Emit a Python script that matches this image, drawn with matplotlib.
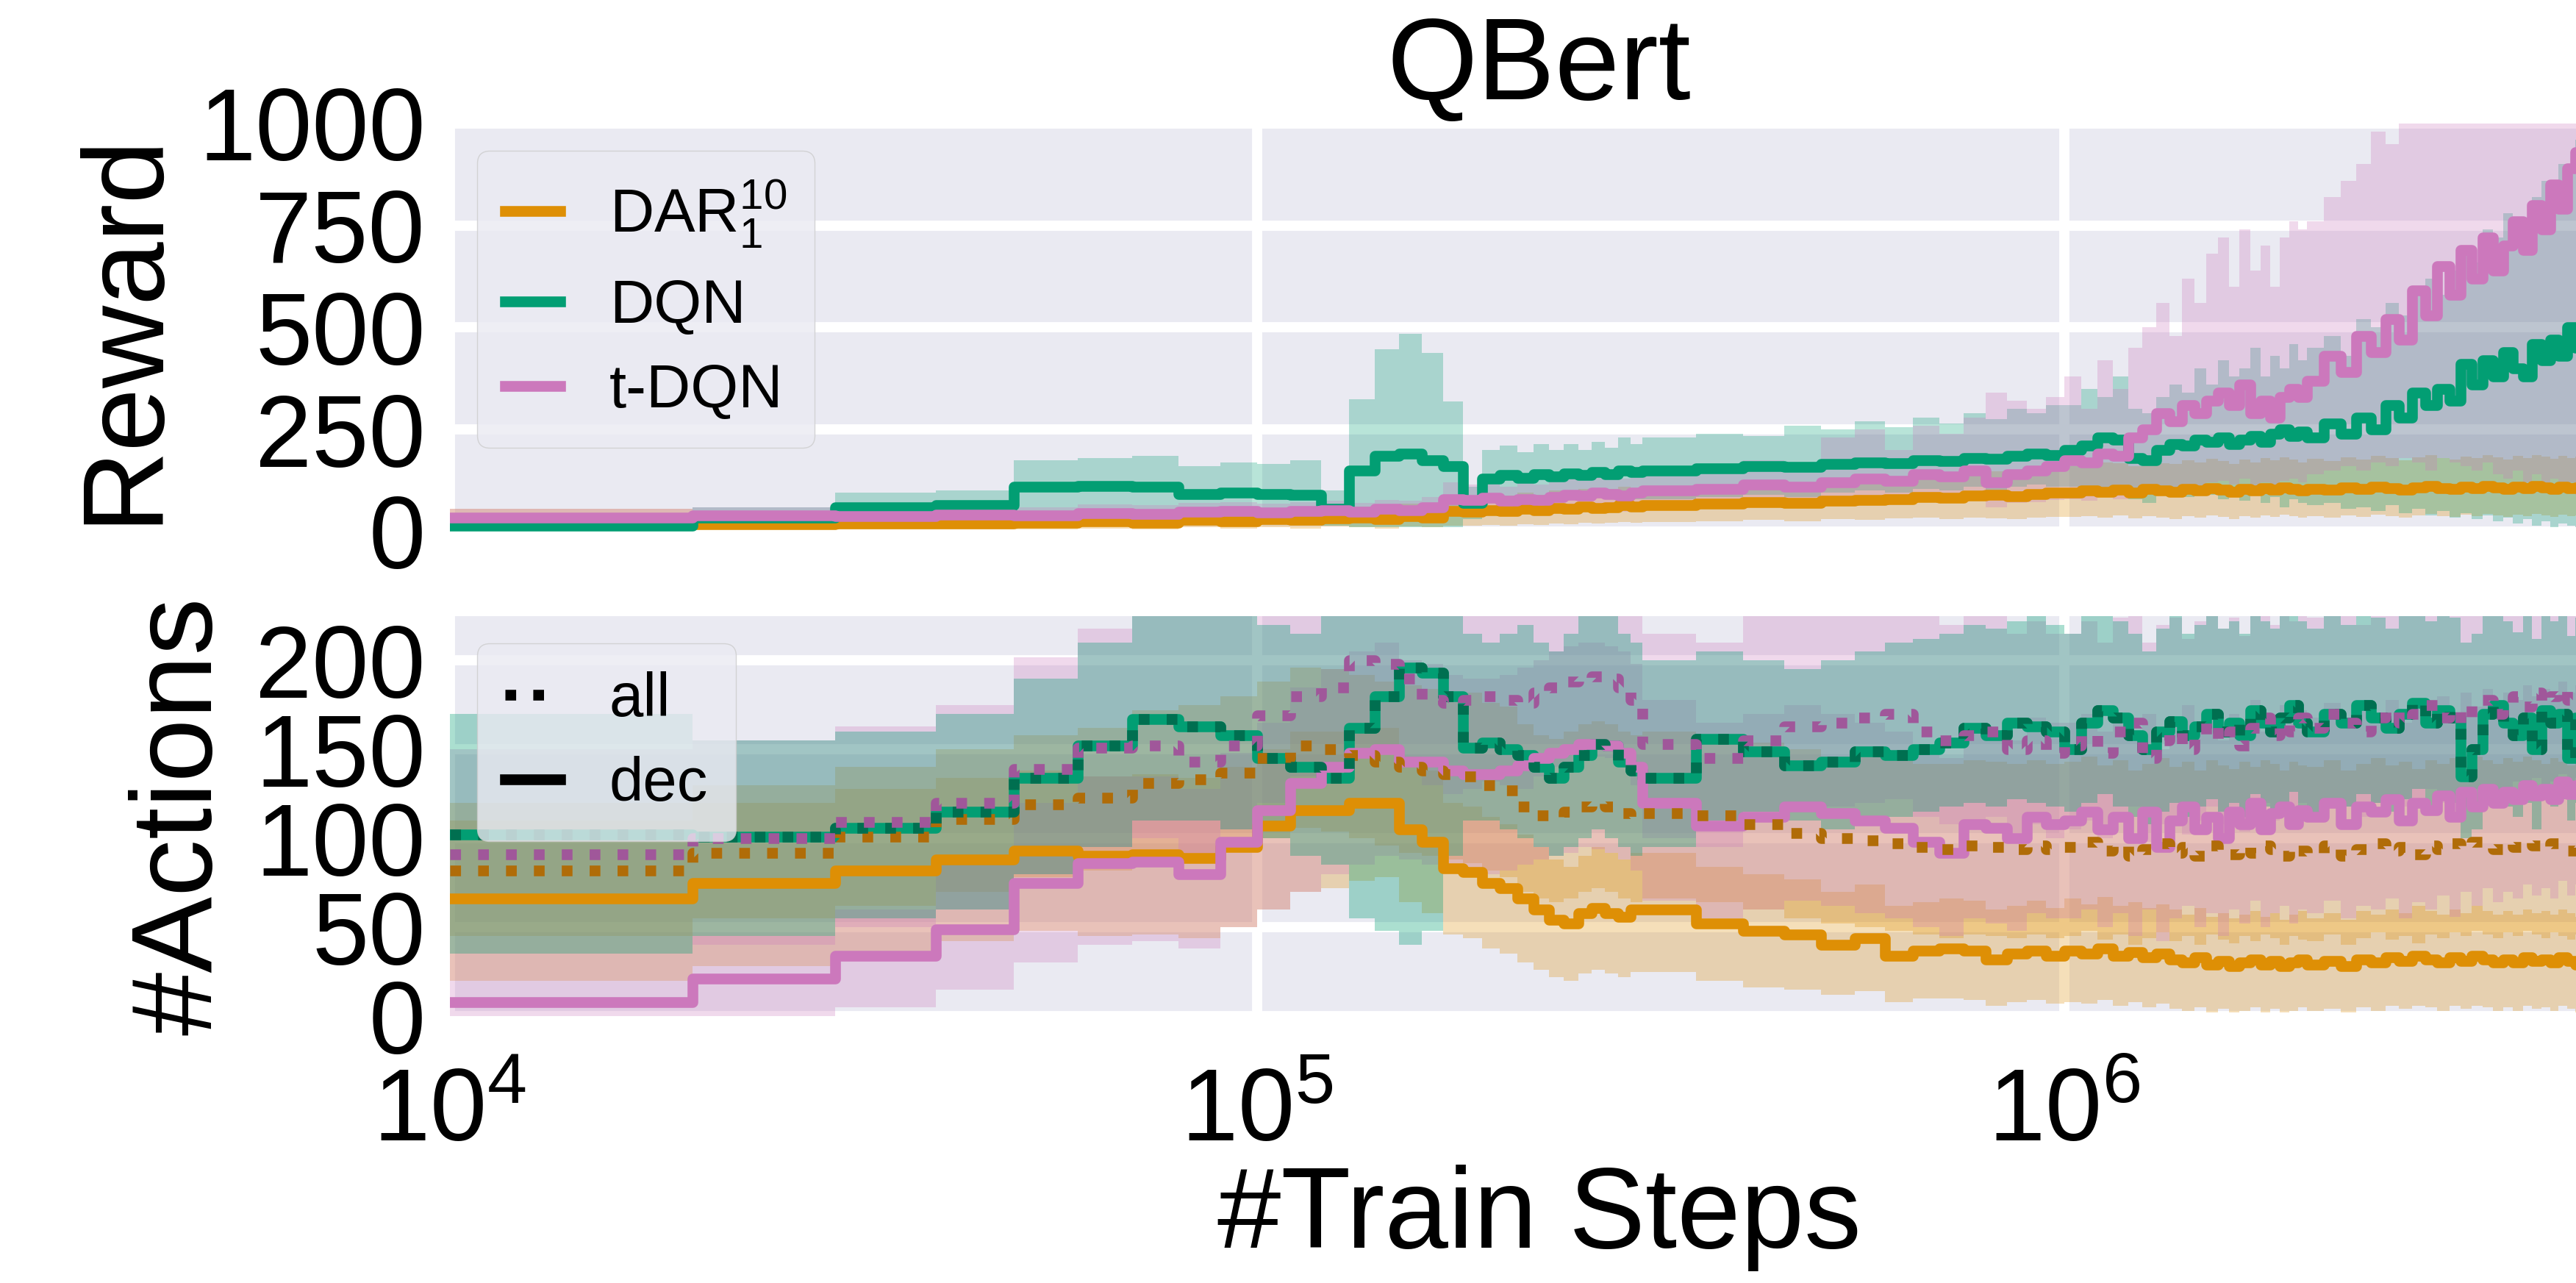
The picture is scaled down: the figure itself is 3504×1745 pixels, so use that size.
import numpy as np
import matplotlib
matplotlib.use("Agg")
import matplotlib.pyplot as plt
from matplotlib.lines import Line2D
from matplotlib.ticker import NullLocator, NullFormatter

plt.rcParams.update({
    'font.family': ['Liberation Sans', 'DejaVu Sans'],
    'mathtext.fontset': 'custom',
    'mathtext.rm': 'Liberation Sans',
    'mathtext.it': 'Liberation Sans:italic',
    'mathtext.bf': 'Liberation Sans:bold',
    'mathtext.default': 'regular',
})

# ---------------- data ----------------
train_steps = np.concatenate([np.arange(1, 30) * 1e4, np.arange(30, 100, 5) * 1e4,
                              np.arange(100, 200, 5) * 1e4, np.arange(200, 501, 10) * 1e4])

methods = ['DAR$_1^{10}$', 'DQN', 't-DQN']
colors = ['#DE8F05', '#029E73', '#CC78BC']
dark_colors = ['#B06C08', '#006F50', '#A0579A']
reward_ticks = [0, 250, 500, 750, 1000]
action_ticks = [0, 50, 100, 150, 200]

# Reward (mean, lower, upper)
reward_dar = [30, 18, 20, 20, 22, 25, 22, 28, 25, 30, 28, 32, 35, 30, 38, 35, 50, 48, 52, 50, 55, 52, 58, 55, 62, 58, 60, 65, 62,
              65, 68, 72, 70, 75, 78, 80, 85, 82, 88, 90, 87, 92, 95,
              95, 100, 98, 102, 96, 105, 100, 98, 104, 100, 106, 102, 98, 104, 100, 106, 102, 108, 104, 100,
              105, 102, 108, 104, 110, 106, 102, 108, 112, 106, 104, 110, 106, 112, 108, 104, 110, 106, 112, 108, 104, 110, 106, 108, 104, 110, 106, 108, 104, 110, 106]
reward_dar_lo = [5, 5, 5, 5, 6, 8, 6, 10, 8, 10, 8, 12, 10, 8, 12, 10, 15, 14, 16, 15, 18, 16, 20, 18, 22, 20, 22, 24, 22,
                 24, 26, 28, 26, 30, 28, 32, 34, 30, 35, 32, 30, 34, 36,
                 36, 38, 34, 40, 32, 38, 35, 30, 38, 34, 40, 36, 30, 38, 34, 40, 36, 42, 38, 34,
                 38, 34, 40, 36, 42, 38, 34, 40, 44, 38, 36, 42, 38, 44, 40, 36, 42, 38, 44, 40, 36, 42, 38, 40, 36, 42, 38, 40, 36, 42, 38]
reward_dar_hi = [55, 35, 38, 40, 42, 46, 42, 50, 48, 55, 50, 58, 62, 55, 68, 62, 90, 85, 92, 88, 95, 90, 100, 95, 105, 100, 104, 110, 106,
                 110, 115, 120, 118, 125, 130, 135, 140, 138, 145, 148, 145, 152, 158,
                 160, 165, 170, 168, 160, 172, 168, 165, 175, 170, 178, 172, 166, 176, 170, 180, 174, 182, 176, 170,
                 178, 172, 182, 176, 185, 180, 174, 182, 188, 180, 176, 184, 180, 188, 182, 176, 186, 180, 188, 184, 178, 186, 180, 184, 178, 186, 180, 184, 178, 186, 182]

reward_dqn = [15, 35, 60, 65, 110, 112, 110, 92, 95, 92, 90, 55, 150, 185, 190, 175, 160, 70, 130, 138, 132, 140, 135, 142, 138, 145, 140, 150, 145,
              150, 155, 160, 158, 165, 170, 168, 175, 172, 180, 178, 185, 190, 188,
              200, 210, 230, 225, 180, 175, 200, 215, 210, 225, 220, 230, 215, 225, 235, 220, 240, 250, 235, 245,
              230, 265, 240, 280, 250, 310, 280, 340, 310, 350, 320, 410, 360, 420, 380, 440, 400, 380, 460, 420, 470, 430, 500, 450, 520, 470, 530, 490, 530, 500, 520]
reward_dqn_lo = [5, 10, 25, 30, 40, 45, 40, 35, 40, 35, 30, 15, 10, 10, 10, 10, 10, 30, 70, 75, 70, 80, 75, 80, 75, 85, 80, 85, 80,
                 80, 85, 90, 85, 95, 100, 95, 105, 100, 110, 100, 110, 115, 110,
                 110, 100, 90, 100, 80, 70, 90, 95, 85, 100, 90, 80, 95, 75, 90, 70, 85, 60, 80, 70,
                 65, 70, 55, 60, 50, 65, 45, 55, 40, 50, 35, 45, 30, 40, 25, 35, 20, 30, 15, 25, 10, 20, 15, 10, 5, 10, 5, 10, 5, 10, 5]
reward_dqn_hi = [35, 60, 95, 100, 175, 180, 185, 160, 170, 165, 175, 100, 325, 446, 485, 438, 318, 110, 200, 210, 195, 215, 200, 215, 200, 220, 205, 230, 215,
                 230, 240, 235, 260, 250, 270, 255, 280, 265, 290, 275, 300, 290, 310,
                 310, 350, 330, 380, 300, 290, 330, 360, 340, 400, 360, 420, 380, 400, 450, 380, 430, 400, 460, 420,
                 450, 480, 430, 520, 500, 560, 530, 600, 620, 580, 640, 700, 660, 740, 720, 780, 760, 700, 820, 860, 840, 900, 880, 960, 940, 1000, 980, 1000, 990, 1000, 1000]

reward_tdqn = [35, 40, 38, 42, 40, 45, 43, 48, 50, 47, 50, 52, 48, 55, 52, 60, 80, 78, 82, 75, 80, 78, 85, 90, 88, 95, 92, 88, 95,
               100, 105, 115, 110, 120, 130, 125, 140, 135, 150, 120, 140, 150, 160,
               175, 170, 190, 185, 230, 250, 290, 270, 310, 290, 320, 340, 310, 360, 290, 320, 280, 330, 350, 330,
               370, 430, 390, 480, 440, 520, 470, 590, 530, 650, 580, 690, 620, 720, 640, 700, 760, 690, 800, 740, 850, 790, 890, 930, 880, 960, 920, 970, 940, 980, 960]
reward_tdqn_lo = [15, 20, 18, 22, 20, 24, 22, 26, 28, 25, 28, 30, 26, 30, 28, 32, 45, 42, 45, 40, 44, 42, 48, 50, 48, 52, 50, 48, 52,
                  55, 58, 62, 60, 65, 70, 66, 72, 70, 75, 60, 70, 72, 78,
                  80, 75, 85, 80, 95, 100, 110, 105, 115, 110, 120, 125, 115, 130, 110, 120, 105, 125, 130, 120,
                  140, 150, 160, 150, 170, 160, 180, 170, 150, 180, 170, 160, 150, 170, 140, 130, 150, 120, 140, 110, 130, 100, 120, 90, 110, 80, 100, 80, 90, 80, 90]
reward_tdqn_hi = [55, 60, 58, 62, 60, 66, 64, 70, 72, 68, 72, 75, 70, 78, 75, 85, 120, 115, 120, 110, 118, 115, 125, 130, 128, 135, 132, 130, 138,
                  150, 160, 175, 170, 230, 250, 200, 260, 240, 280, 340, 320, 300, 330,
                  380, 300, 420, 350, 450, 500, 560, 480, 620, 560, 680, 720, 600, 740, 640, 700, 600, 720, 760, 740,
                  760, 820, 860, 900, 980, 950, 1050, 1100, 1050, 1150, 1100, 1200, 1150, 1250, 1100, 1200, 1250, 1200, 1300, 1250, 1350, 1300, 1400, 1400, 1350, 1450, 1400, 1450, 1400, 1450, 1400]

# #Actions: "dec" (solid) and "all" (dotted); DQN decides at every step, so its two curves coincide
act_dar_dec = [66, 75, 82, 88, 93, 90, 91, 89, 95, 107, 116, 116, 120, 120, 105, 98, 83, 81, 75, 72, 66, 60, 54, 52, 58, 61, 58, 56, 60,
               60, 52, 48, 46, 40, 44, 34, 37, 38, 37, 32, 35, 37, 34,
               37, 35, 38, 34, 36, 33, 35, 32, 30, 33, 29, 31, 28, 30, 32, 29, 31, 28, 30, 32,
               29, 31, 28, 32, 30, 33, 31, 34, 32, 30, 33, 31, 34, 32, 30, 32, 30, 33, 31, 32, 30, 33, 31, 29, 31, 30, 32, 30, 31, 30, 31]
act_dar_dec_lo = [20, 28, 35, 42, 48, 45, 46, 44, 50, 60, 70, 72, 76, 78, 64, 58, 46, 44, 38, 35, 30, 26, 22, 20, 24, 26, 24, 22, 25,
                  25, 20, 16, 15, 12, 14, 8, 10, 10, 9, 6, 8, 9, 7,
                  8, 7, 9, 6, 8, 5, 7, 4, 3, 5, 2, 4, 2, 3, 5, 2, 4, 2, 3, 5,
                  3, 4, 2, 5, 3, 6, 4, 6, 5, 3, 6, 4, 6, 5, 3, 5, 3, 6, 4, 5, 3, 6, 4, 2, 4, 3, 5, 3, 4, 3, 4]
act_dar_dec_hi = [110, 120, 128, 134, 138, 135, 136, 134, 140, 150, 160, 160, 164, 162, 146, 138, 120, 118, 112, 108, 102, 95, 88, 84, 90, 95, 92, 88, 92,
                  92, 84, 80, 77, 70, 74, 62, 64, 66, 65, 60, 62, 65, 61,
                  66, 63, 67, 62, 64, 61, 63, 60, 57, 61, 56, 58, 55, 57, 59, 56, 58, 54, 57, 59,
                  55, 58, 54, 59, 57, 60, 58, 62, 59, 57, 60, 58, 62, 59, 57, 59, 57, 60, 58, 59, 57, 60, 58, 56, 58, 57, 59, 57, 58, 57, 58]
act_dar_all = [82, 92, 101, 111, 119, 123, 131, 133, 137, 145, 152, 150, 147, 143, 140, 138, 136, 135, 130, 127, 118, 113, 112, 115, 118, 120, 118, 114, 112,
               114, 113, 108, 103, 100, 99, 97, 95, 94, 96, 95, 94, 96, 94,
               95, 98, 93, 96, 90, 94, 97, 92, 95, 90, 96, 93, 91, 95, 92, 96, 94, 90, 95, 93,
               92, 96, 90, 94, 97, 93, 95, 91, 96, 94, 97, 95, 98, 96, 94, 97, 95, 98, 96, 94, 97, 95, 93, 96, 94, 97, 95, 93, 96, 94, 95]
act_dar_all_lo = [45, 55, 62, 70, 78, 82, 88, 90, 94, 100, 106, 104, 100, 96, 92, 90, 88, 86, 82, 78, 70, 66, 64, 66, 70, 72, 70, 66, 64,
                  66, 64, 60, 55, 52, 50, 48, 46, 44, 46, 45, 44, 46, 44,
                  45, 48, 43, 46, 40, 44, 47, 42, 45, 40, 46, 43, 41, 45, 42, 46, 44, 40, 45, 43,
                  42, 46, 40, 44, 47, 43, 45, 41, 46, 44, 47, 45, 48, 46, 44, 47, 45, 48, 46, 44, 47, 45, 43, 46, 44, 47, 45, 43, 46, 44, 45]
act_dar_all_hi = [120, 130, 140, 150, 158, 162, 172, 175, 180, 188, 196, 195, 192, 188, 186, 184, 182, 182, 176, 174, 164, 158, 156, 160, 164, 166, 164, 160, 158,
                  160, 158, 154, 150, 146, 146, 144, 142, 142, 144, 143, 142, 144, 142,
                  143, 146, 141, 144, 138, 142, 145, 140, 143, 138, 144, 141, 139, 143, 140, 144, 142, 138, 143, 141,
                  140, 144, 138, 142, 145, 141, 143, 139, 144, 142, 145, 143, 146, 144, 142, 145, 143, 146, 144, 142, 145, 143, 141, 144, 142, 145, 143, 141, 144, 142, 143]

act_dqn = [102, 101, 106, 115, 134, 152, 167, 163, 158, 145, 140, 134, 162, 180, 196, 193, 180, 151, 154, 150, 147, 140, 134, 140, 147, 153, 152, 143, 138,
           134, 156, 149, 141, 143, 149, 147, 150, 154, 162, 158, 165, 163, 160,
           150, 165, 172, 168, 158, 150, 160, 166, 158, 163, 170, 160, 165, 158, 172, 165, 160, 168, 175, 165,
           160, 170, 165, 175, 168, 162, 170, 176, 165, 172, 168, 135, 150, 170, 175, 165, 158, 168, 150, 172, 165, 170, 145, 168, 162, 170, 165, 168, 162, 170, 165]
act_dqn_lo = [35, 45, 55, 60, 80, 95, 110, 110, 105, 100, 90, 85, 55, 48, 40, 48, 90, 110, 110, 105, 100, 95, 90, 95, 100, 105, 100, 95, 90,
              95, 110, 115, 110, 105, 110, 112, 115, 118, 120, 118, 122, 120, 118,
              115, 120, 125, 118, 112, 108, 115, 120, 112, 118, 122, 115, 120, 112, 125, 118, 115, 120, 126, 118,
              112, 122, 118, 125, 120, 115, 122, 128, 118, 124, 120, 100, 105, 122, 126, 118, 112, 120, 105, 124, 118, 122, 110, 120, 116, 122, 118, 120, 116, 122, 118]
act_dqn_hi = [170, 155, 160, 170, 190, 210, 235, 240, 230, 220, 215, 225, 240, 260, 260, 250, 240, 215, 210, 215, 220, 210, 205, 215, 225, 230, 225, 215, 210,
              200, 205, 200, 195, 200, 205, 210, 212, 215, 220, 218, 222, 225, 220,
              215, 225, 230, 222, 215, 205, 218, 225, 215, 220, 228, 218, 222, 215, 230, 222, 218, 226, 232, 222,
              218, 226, 220, 230, 224, 218, 226, 232, 222, 228, 224, 210, 215, 228, 232, 222, 216, 226, 212, 228, 222, 226, 214, 224, 220, 226, 222, 224, 220, 226, 222]

act_tdqn_dec = [8, 21, 34, 49, 75, 86, 87, 80, 98, 116, 131, 140, 148, 150, 143, 143, 138, 136, 136, 138, 141, 145, 148, 150, 153, 153, 152, 148, 140,
                120, 107, 112, 118, 114, 110, 106, 98, 92, 108, 106, 100, 112, 108,
                110, 115, 105, 112, 100, 115, 95, 110, 118, 105, 112, 100, 115, 108, 120, 105, 114, 118, 108, 116,
                112, 120, 108, 118, 115, 122, 110, 120, 116, 124, 112, 126, 118, 128, 120, 126, 122, 130, 124, 128, 122, 132, 125, 130, 126, 132, 128, 130, 126, 132, 128]
act_tdqn_dec_lo = [0, 0, 5, 15, 30, 40, 42, 38, 50, 60, 70, 80, 85, 90, 88, 85, 82, 80, 80, 82, 85, 88, 90, 92, 95, 94, 92, 88, 82,
                   65, 55, 60, 65, 62, 58, 55, 50, 45, 55, 52, 48, 58, 55,
                   55, 60, 50, 58, 45, 60, 42, 55, 62, 50, 58, 45, 60, 52, 65, 50, 58, 62, 52, 60,
                   58, 65, 55, 62, 60, 66, 55, 64, 60, 68, 56, 70, 62, 72, 64, 70, 66, 74, 68, 72, 66, 76, 68, 74, 70, 76, 72, 74, 70, 76, 72]
act_tdqn_dec_hi = [30, 45, 60, 85, 120, 135, 135, 128, 148, 165, 185, 195, 205, 210, 200, 198, 192, 190, 190, 192, 196, 200, 205, 208, 210, 210, 208, 205, 198,
                   178, 165, 170, 175, 170, 165, 160, 150, 145, 162, 160, 155, 168, 165,
                   165, 170, 160, 168, 155, 170, 150, 165, 175, 160, 168, 155, 170, 162, 178, 160, 170, 175, 165, 172,
                   168, 176, 162, 174, 170, 178, 165, 176, 172, 180, 168, 182, 174, 184, 176, 182, 178, 186, 180, 184, 178, 188, 182, 186, 182, 188, 184, 186, 182, 188, 184]
act_tdqn_all = [91, 100, 109, 120, 139, 151, 152, 143, 152, 169, 180, 185, 200, 198, 190, 178, 176, 178, 180, 178, 176, 182, 185, 188, 190, 191, 190, 185, 178,
                153, 145, 155, 163, 165, 168, 170, 160, 155, 158, 160, 150, 155, 148,
                152, 158, 148, 160, 165, 145, 155, 160, 150, 158, 165, 155, 160, 152, 162, 168, 158, 165, 160, 168,
                162, 170, 165, 160, 168, 172, 165, 170, 175, 168, 172, 165, 175, 178, 170, 176, 180, 174, 182, 176, 180, 184, 178, 182, 178, 184, 180, 182, 178, 184, 180]
act_tdqn_all_lo = [30, 40, 50, 60, 80, 95, 100, 90, 105, 120, 135, 140, 150, 150, 140, 130, 125, 128, 132, 130, 128, 135, 140, 142, 145, 146, 145, 140, 130,
                   100, 95, 110, 115, 118, 120, 122, 112, 108, 110, 112, 102, 108, 100,
                   105, 110, 100, 112, 118, 98, 108, 112, 102, 110, 118, 108, 112, 104, 114, 120, 110, 118, 112, 120,
                   114, 122, 118, 112, 120, 124, 118, 122, 128, 120, 124, 118, 128, 130, 122, 128, 132, 126, 134, 128, 132, 136, 130, 134, 130, 136, 132, 134, 130, 136, 132]
act_tdqn_all_hi = [150, 155, 163, 175, 202, 218, 235, 235, 235, 240, 240, 240, 240, 240, 240, 235, 230, 232, 235, 232, 230, 235, 240, 240, 240, 240, 240, 235, 230,
                   215, 210, 230, 240, 240, 240, 240, 230, 220, 225, 228, 215, 222, 215,
                   215, 222, 210, 224, 230, 210, 220, 224, 212, 222, 230, 218, 224, 214, 226, 232, 220, 230, 222, 230,
                   224, 232, 226, 220, 230, 234, 226, 232, 238, 230, 234, 228, 238, 240, 232, 238, 242, 236, 244, 238, 242, 246, 240, 244, 240, 246, 242, 244, 240, 246, 242]

# ---------------- figure ----------------
fig = plt.figure(figsize=(35.05, 17.45), dpi=100)
fig.patch.set_facecolor('white')
ax1 = fig.add_axes([0.1746, 0.5857, 0.8454, 0.3181])
ax2 = fig.add_axes([0.1746, 0.2080, 0.8454, 0.3118], sharex=ax1)

for ax in (ax1, ax2):
    ax.set_facecolor('#EAEAF2')
    ax.set_xscale('log')
    ax.set_axisbelow(True)
    ax.grid(True, which='major', color='white', linewidth=10)
    for s in ax.spines.values():
        s.set_visible(False)
    ax.tick_params(axis='both', which='both', length=0, labelsize=100)
    ax.tick_params(axis='y', pad=24)
    ax.tick_params(axis='x', pad=50)
    ax.xaxis.set_minor_locator(NullLocator())
    ax.xaxis.set_minor_formatter(NullFormatter())

LW = 10.5
DOTS = (0, (1, 1.6))
ALPHA = 0.28

# top panel: reward
rw_means = [reward_dar, reward_dqn, reward_tdqn]
rw_los = [reward_dar_lo, reward_dqn_lo, reward_tdqn_lo]
rw_his = [reward_dar_hi, reward_dqn_hi, reward_tdqn_hi]
for lo, hi, c in zip(rw_los, rw_his, colors):
    ax1.fill_between(train_steps, lo, hi, step='post', color=c, alpha=ALPHA, linewidth=0)
for m, c in zip(rw_means, colors):
    ax1.plot(train_steps, m, drawstyle='steps-post', color=c, lw=LW)

# bottom panel: actions (DQN band drawn last so it sits on top)
ax2.fill_between(train_steps, act_dar_dec_lo, act_dar_dec_hi, step='post', color=colors[0], alpha=ALPHA, linewidth=0)
ax2.fill_between(train_steps, act_dar_all_lo, act_dar_all_hi, step='post', color=colors[0], alpha=ALPHA, linewidth=0)
ax2.fill_between(train_steps, act_tdqn_dec_lo, act_tdqn_dec_hi, step='post', color=colors[2], alpha=ALPHA, linewidth=0)
ax2.fill_between(train_steps, act_tdqn_all_lo, act_tdqn_all_hi, step='post', color=colors[2], alpha=ALPHA, linewidth=0)
ax2.fill_between(train_steps, act_dqn_lo, act_dqn_hi, step='post', color=colors[1], alpha=ALPHA + 0.05, linewidth=0)

dec_means = [act_dar_dec, act_dqn, act_tdqn_dec]
all_means = [act_dar_all, act_dqn, act_tdqn_all]
for m, c in zip(dec_means, colors):
    ax2.plot(train_steps, m, drawstyle='steps-post', color=c, lw=LW)
for m, c in zip(all_means, dark_colors):
    ax2.plot(train_steps, m, drawstyle='steps-post', color=c, lw=LW, linestyle=DOTS)

ax1.set_xlim(1e4, 5e6)
ax1.set_ylim(0, 1000)
ax2.set_ylim(0, 225)
ax1.set_yticks(reward_ticks)
ax2.set_yticks(action_ticks)
ax1.tick_params(axis='x', labelbottom=False)

ax1.set_title('QBert', fontsize=114, pad=18)
ax1.set_ylabel('Reward', fontsize=112, labelpad=20)
ax2.set_ylabel('#Actions', fontsize=112, labelpad=20)
ax2.set_xlabel('#Train Steps', fontsize=112, labelpad=2)

leg_kw = dict(loc='upper left', fontsize=60, handlelength=0.9, handletextpad=0.8,
              labelspacing=0.45, borderaxespad=0.45, borderpad=0.45, framealpha=0.8,
              facecolor='#EAEAF2', edgecolor='#CCCCCC', fancybox=True)
h1 = [Line2D([0], [0], color=c, lw=LW) for c in colors]
ax1.legend(h1, methods, **leg_kw)
h2 = [Line2D([0], [0], color='black', lw=LW, linestyle=DOTS),
      Line2D([0], [0], color='black', lw=LW)]
ax2.legend(h2, ['all', 'dec'], **leg_kw)

fig.savefig('out.png', dpi=100)
